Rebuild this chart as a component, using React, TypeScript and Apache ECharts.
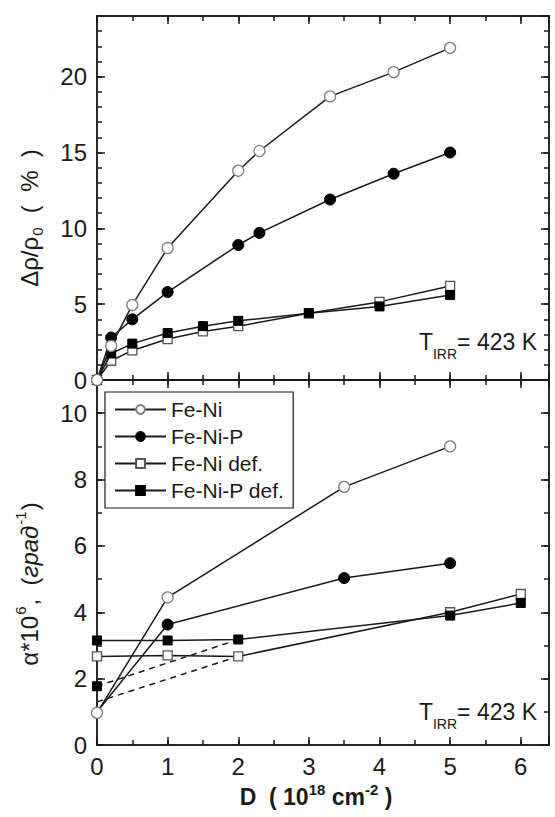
import React, { useEffect, useRef } from "react";
import * as echarts from "echarts";

// ---- Data ----
const legendNames = ["Fe-Ni", "Fe-Ni-P", "Fe-Ni def.", "Fe-Ni-P def."];

// Top panel: Δρ/ρ0 (%) vs D
const topXFeNi = [0, 0.2, 0.5, 1, 2, 2.3, 3.3, 4.2, 5];
const topFeNi = [0, 2.25, 4.95, 8.7, 13.8, 15.1, 18.7, 20.3, 21.9];
const topFeNiP = [0, 2.8, 4.0, 5.8, 8.9, 9.7, 11.9, 13.6, 15.0];
const topXDef = [0, 0.2, 0.5, 1, 1.5, 2, 3, 4, 5];
const topFeNiDef = [0, 1.27, 1.95, 2.7, 3.2, 3.55, 4.4, 5.15, 6.2];
const topFeNiPDef = [0, 1.75, 2.4, 3.1, 3.55, 3.9, 4.4, 4.85, 5.6];

// Bottom panel: α*10^6 vs D
const botXFeNi = [0, 1, 3.5, 5];
const botFeNi = [0.97, 4.45, 7.78, 9.0];
const botFeNiP = [1.0, 3.63, 5.03, 5.48];
const botXDef = [0, 1, 2, 5, 6];
const botFeNiDef = [2.67, 2.7, 2.67, 4.0, 4.55];
const botFeNiPDef = [3.15, 3.15, 3.18, 3.9, 4.28];
const dashX = [0, 2];
const dashFeNiDef = [1.3, 2.67];
const dashFeNiPDef = [1.77, 3.18];

// Axis tick settings
const xMax = 6.4;
const topYMax = 24;
const botYMax = 11;

const FONT = "'Liberation Sans', Arial, sans-serif";
const INK = "#1a1a1a";

const pairs = (xs: number[], ys: number[]) => xs.map((x, i) => [x, ys[i]]);

export default function App() {
  const ref = useRef<HTMLDivElement>(null);

  useEffect(() => {
    if (!ref.current) return;
    const chart = echarts.init(ref.current, undefined, { renderer: "svg" });

    const lineStyle = { color: INK, width: 1.5 };
    const tick = (len: number) => ({
      show: true,
      inside: true,
      length: len,
      lineStyle: { color: INK, width: 1.5 },
    });
    const labelStyle = {
      fontFamily: FONT,
      fontSize: 24,
      color: INK,
    };

    const makeX = (gridIndex: number, showLabels: boolean) => {
      const base = {
        type: "value",
        gridIndex,
        min: 0,
        max: xMax,
        splitLine: { show: false },
        axisLine: { show: true, onZero: false, lineStyle },
      };
      return [
        {
          ...base,
          position: "bottom",
          interval: 1,
          axisTick: tick(8),
          axisLabel: showLabels
            ? {
                ...labelStyle,
                margin: 9,
                formatter: (v: number) =>
                  Math.abs(v - Math.round(v)) < 1e-6 && v <= 6 ? String(v) : "",
              }
            : { show: false },
        },
        { ...base, position: "bottom", interval: 0.5, axisTick: tick(5), axisLabel: { show: false } },
        { ...base, position: "top", interval: 1, axisTick: tick(8), axisLabel: { show: false } },
        { ...base, position: "top", interval: 0.5, axisTick: tick(5), axisLabel: { show: false } },
      ];
    };

    const makeY = (gridIndex: number, max: number, major: number) => {
      const base = {
        type: "value",
        gridIndex,
        min: 0,
        max,
        splitLine: { show: false },
        axisLine: { show: true, onZero: false, lineStyle },
      };
      return [
        {
          ...base,
          position: "left",
          interval: major,
          axisTick: tick(8),
          axisLabel: {
            ...labelStyle,
            margin: 10,
            formatter: (v: number) =>
              Math.abs(v / major - Math.round(v / major)) < 1e-6 ? String(v) : "",
          },
        },
        { ...base, position: "left", interval: 1, axisTick: tick(5), axisLabel: { show: false } },
        { ...base, position: "right", interval: major, axisTick: tick(8), axisLabel: { show: false } },
        { ...base, position: "right", interval: 1, axisTick: tick(5), axisLabel: { show: false } },
      ];
    };

    const openCircle = {
      symbol: "circle",
      symbolSize: 11,
      itemStyle: { color: "#ffffff", borderColor: "#808080", borderWidth: 1.3 },
    };
    const fullCircle = {
      symbol: "circle",
      symbolSize: 11,
      itemStyle: { color: "#000000", borderColor: "#000000", borderWidth: 1 },
    };
    const openSquare = {
      symbol: "rect",
      symbolSize: 9,
      itemStyle: { color: "#ffffff", borderColor: "#555555", borderWidth: 1.3 },
    };
    const fullSquare = {
      symbol: "rect",
      symbolSize: 9,
      itemStyle: { color: "#000000", borderColor: "#000000", borderWidth: 1 },
    };

    const mk = (
      name: string,
      sym: any,
      data: any[],
      xi: number,
      yi: number,
      z: number,
      dashed = false
    ) => ({
      type: "line",
      name,
      xAxisIndex: xi,
      yAxisIndex: yi,
      data,
      ...sym,
      z,
      lineStyle: { color: INK, width: 1.5, type: dashed ? [6, 5] : "solid" },
      emphasis: { disabled: true },
    });

    const botFeNiPData: any[] = pairs(botXFeNi, botFeNiP);
    botFeNiPData[0] = { value: botFeNiPData[0], symbol: "none" };
    const dashFeNiDefData: any[] = pairs(dashX, dashFeNiDef);
    const dashFeNiPDefData: any[] = pairs(dashX, dashFeNiPDef);
    dashFeNiPDefData[1] = { value: dashFeNiPDefData[1], symbol: "none" };

    const option: any = {
      animation: false,
      backgroundColor: "#ffffff",
      textStyle: { fontFamily: FONT },
      grid: [
        { left: 97, top: 16, width: 452, height: 364, containLabel: false },
        { left: 97, top: 380, width: 452, height: 365, containLabel: false },
      ],
      xAxis: [...makeX(0, false), ...makeX(1, true)],
      yAxis: [...makeY(0, topYMax, 5), ...makeY(1, botYMax, 2)],
      legend: {
        data: legendNames,
        orient: "vertical",
        left: 105,
        top: 392,
        padding: [7, 9, 7, 9],
        itemGap: 6,
        itemWidth: 51,
        itemHeight: 11,
        borderColor: INK,
        borderWidth: 1.2,
        backgroundColor: "#ffffff",
        selectedMode: false,
        textStyle: { fontFamily: FONT, fontSize: 21, color: INK, padding: [0, 0, 0, 0] },
        z: 10,
      },
      series: [
        // top panel
        mk("Fe-Ni def.", openSquare, pairs(topXDef, topFeNiDef), 0, 0, 2),
        mk("Fe-Ni-P def.", fullSquare, pairs(topXDef, topFeNiPDef), 0, 0, 3),
        mk("Fe-Ni-P", fullCircle, pairs(topXFeNi, topFeNiP), 0, 0, 4),
        mk("Fe-Ni", openCircle, pairs(topXFeNi, topFeNi), 0, 0, 5),
        // bottom panel
        mk("dash Fe-Ni def.", { symbol: "none" }, dashFeNiDefData, 4, 4, 2, true),
        mk("dash Fe-Ni-P def.", fullSquare, dashFeNiPDefData, 4, 4, 2, true),
        mk("Fe-Ni def.", openSquare, pairs(botXDef, botFeNiDef), 4, 4, 3),
        mk("Fe-Ni-P def.", fullSquare, pairs(botXDef, botFeNiPDef), 4, 4, 3),
        mk("Fe-Ni-P", fullCircle, botFeNiPData, 4, 4, 4),
        mk("Fe-Ni", openCircle, pairs(botXFeNi, botFeNi), 4, 4, 5),
      ],
      graphic: [
        {
          type: "text",
          x: 29,
          y: 218,
          rotation: Math.PI / 2,
          style: {
            text: "{n|Δρ/ρ}{s|0}{n|  (  %  )}",
            align: "center",
            verticalAlign: "middle",
            fill: INK,
            rich: {
              n: { fontFamily: FONT, fontSize: 24, fill: INK, color: INK },
              s: { fontFamily: FONT, fontSize: 15, fill: INK, color: INK, padding: [16, 1, 0, 1] },
            },
          },
        },
        {
          type: "text",
          x: 29,
          y: 584,
          rotation: Math.PI / 2,
          style: {
            text: "{n|α*10}{p|6}{n|,  (}{i|град}{p|-1}{n|)}",
            align: "center",
            verticalAlign: "middle",
            fill: INK,
            rich: {
              n: { fontFamily: FONT, fontSize: 24, fill: INK, color: INK },
              i: { fontFamily: FONT, fontSize: 24, fontStyle: "italic", fill: INK, color: INK },
              p: { fontFamily: FONT, fontSize: 15, fill: INK, color: INK, padding: [0, 1, 18, 1] },
            },
          },
        },
        {
          type: "text",
          x: 316,
          y: 797,
          style: {
            text: "{n|D  ( 10}{p|18}{n| cm}{p|-2}{n| )}",
            align: "center",
            verticalAlign: "middle",
            fill: INK,
            rich: {
              n: { fontFamily: FONT, fontSize: 23, fontWeight: "bold", fill: INK, color: INK },
              p: { fontFamily: FONT, fontSize: 15, fontWeight: "bold", fill: INK, color: INK, padding: [0, 0, 16, 0] },
            },
          },
        },
        {
          type: "text",
          x: 537,
          y: 342,
          style: {
            text: "{n|T}{s|IRR}{n|= 423 K}",
            align: "right",
            verticalAlign: "middle",
            fill: INK,
            rich: {
              n: { fontFamily: FONT, fontSize: 23, fill: INK, color: INK },
              s: { fontFamily: FONT, fontSize: 14, fill: INK, color: INK, padding: [24, 0, 0, 0] },
            },
          },
        },
        {
          type: "text",
          x: 537,
          y: 712,
          style: {
            text: "{n|T}{s|IRR}{n|= 423 K}",
            align: "right",
            verticalAlign: "middle",
            fill: INK,
            rich: {
              n: { fontFamily: FONT, fontSize: 23, fill: INK, color: INK },
              s: { fontFamily: FONT, fontSize: 14, fill: INK, color: INK, padding: [24, 0, 0, 0] },
            },
          },
        },
      ],
    };

    chart.setOption(option);
    return () => chart.dispose();
  }, []);

  return (
    <div
      ref={ref}
      style={{ position: "fixed", left: 0, top: 0, width: 555, height: 817, background: "#fff" }}
    />
  );
}
